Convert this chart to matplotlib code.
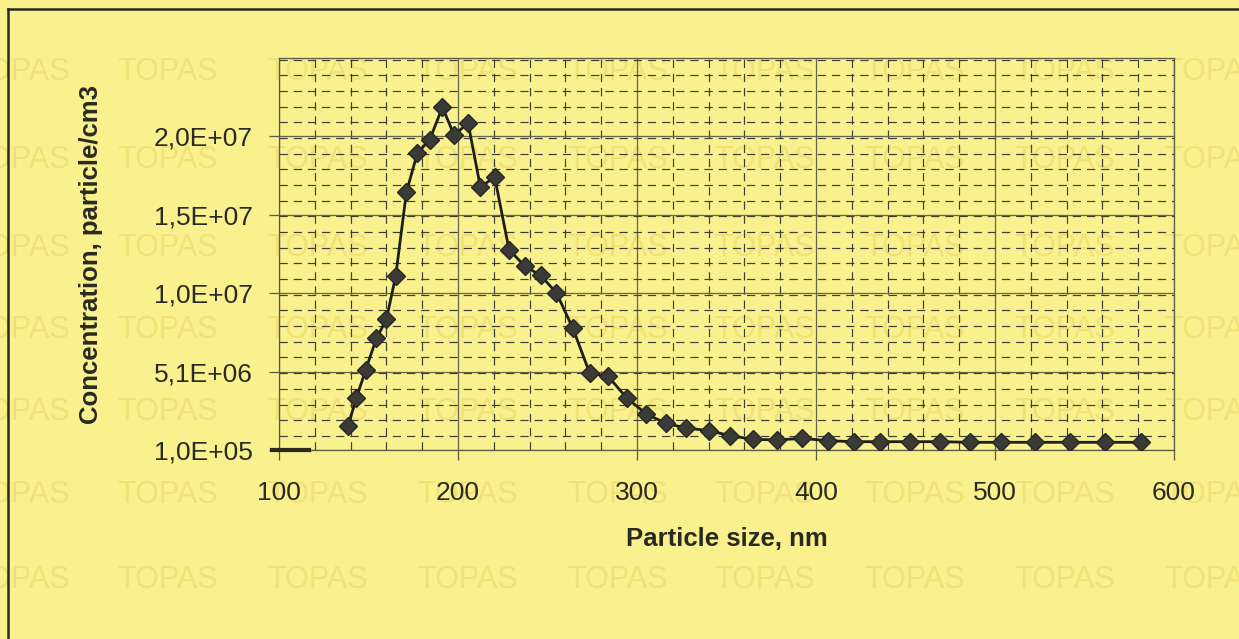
import matplotlib
matplotlib.use("Agg")
import matplotlib.pyplot as plt
from matplotlib.ticker import FixedLocator, MultipleLocator, FixedFormatter
from matplotlib.lines import Line2D

plt.rcParams['font.family'] = ['Liberation Sans', 'DejaVu Sans']

# ---- data ----
particle_size_nm = [138.5, 143.2, 148.4, 154.4, 160.0, 165.2, 171.2, 177.3, 184.2, 191.3,
                    197.9, 205.6, 212.5, 220.5, 228.5, 237.3, 246.1, 255.0, 264.2, 273.6,
                    283.8, 294.4, 305.3, 316.0, 327.6, 340.2, 352.2, 364.8, 378.4, 392.4,
                    406.7, 421.1, 436.0, 452.3, 469.5, 485.9, 503.2, 522.2, 541.7, 561.3,
                    581.8]
concentration_e6 = [1.63, 3.39, 5.19, 7.20, 8.41, 11.18, 16.52, 19.00, 19.85, 21.92,
                    20.12, 20.93, 16.84, 17.47, 12.86, 11.80, 11.22, 10.10, 7.84, 4.98,
                    4.80, 3.39, 2.39, 1.80, 1.50, 1.33, 1.01, 0.78, 0.74, 0.84,
                    0.69, 0.63, 0.63, 0.63, 0.63, 0.59, 0.59, 0.59, 0.59, 0.59,
                    0.59]
concentration = [v * 1e6 for v in concentration_e6]

x_ticks = [100, 200, 300, 400, 500, 600]
y_tick_values = [1.0e5, 5.09e6, 1.008e7, 1.507e7, 2.006e7]
y_tick_labels = ["1,0E+05", "5,1E+06", "1,0E+07", "1,5E+07", "2,0E+07"]
x_label = "Particle size, nm"
y_label = "Concentration, particle/cm3"
watermark = "TOPAS"

BG = '#f9f08e'
WM = '#efe276'
INK = '#2a2a22'

fig = plt.figure(figsize=(12.39, 6.39), dpi=100)
fig.patch.set_facecolor(BG)

# watermark texts (decorative background)
wm_rows = [72, 160, 248, 330, 412, 495, 580]
wm_cols = [20, 168, 318, 468, 618, 765, 915, 1065, 1215]
for ry in wm_rows:
    for cx in wm_cols:
        fig.text(cx / 1239, 1 - ry / 639, watermark, color=WM, fontsize=22,
                 ha='center', va='center', zorder=-5)

# outer frame (left and top edges visible)
fig.add_artist(Line2D([8 / 1239, 8 / 1239], [0, 1 - 9 / 639], color=INK, lw=1.8,
                      transform=fig.transFigure, zorder=2))
fig.add_artist(Line2D([8 / 1239, 1.0], [1 - 9 / 639, 1 - 9 / 639], color=INK, lw=1.8,
                      transform=fig.transFigure, zorder=2))

ax = fig.add_axes([279 / 1239, 1 - 450 / 639, (1174 - 279) / 1239, (450 - 58) / 639])
ax.set_zorder(1)
ax.set_facecolor('none')

ax.set_xlim(100, 600)
ax.set_ylim(1.0e5, 1.0e5 + 5 * 4.99e6)

ax.xaxis.set_major_locator(FixedLocator(x_ticks))
ax.xaxis.set_minor_locator(MultipleLocator(20))
ax.yaxis.set_major_locator(FixedLocator(y_tick_values))
ax.yaxis.set_major_formatter(FixedFormatter(y_tick_labels))
ax.yaxis.set_minor_locator(MultipleLocator(0.998e6))

ax.grid(which='major', color='#66664a', lw=0.9, ls='-')
ax.grid(which='minor', color='#3e3e32', lw=0.85, ls=(0, (7, 5)))
ax.set_axisbelow(True)

for s in ax.spines.values():
    s.set_color('#5a5a40')
    s.set_linewidth(0.9)

ax.tick_params(which='major', direction='out', length=7, width=0.9, color='#5a5a40',
               labelsize=19, labelcolor=INK)
ax.tick_params(which='minor', length=0)
ax.tick_params(axis='x', pad=15)
ax.tick_params(axis='y', pad=12)

ax.plot(particle_size_nm, concentration, color='#1e1e1a', lw=2.0, marker='D',
        markersize=9.5, markerfacecolor='#3a3a36', markeredgecolor='#262622',
        markeredgewidth=1.0, zorder=5)

# thick baseline stub at the origin
ax.add_artist(Line2D([-0.008, 0.033], [0, 0], color=INK, lw=3, transform=ax.transAxes,
                     clip_on=False, zorder=6))

ax.set_xlabel(x_label, fontsize=18.5, fontweight='bold', color=INK, labelpad=16)
ax.set_ylabel(y_label, fontsize=18.5, fontweight='bold', color=INK, labelpad=36)

fig.savefig('out.png', dpi=100, facecolor=BG)
